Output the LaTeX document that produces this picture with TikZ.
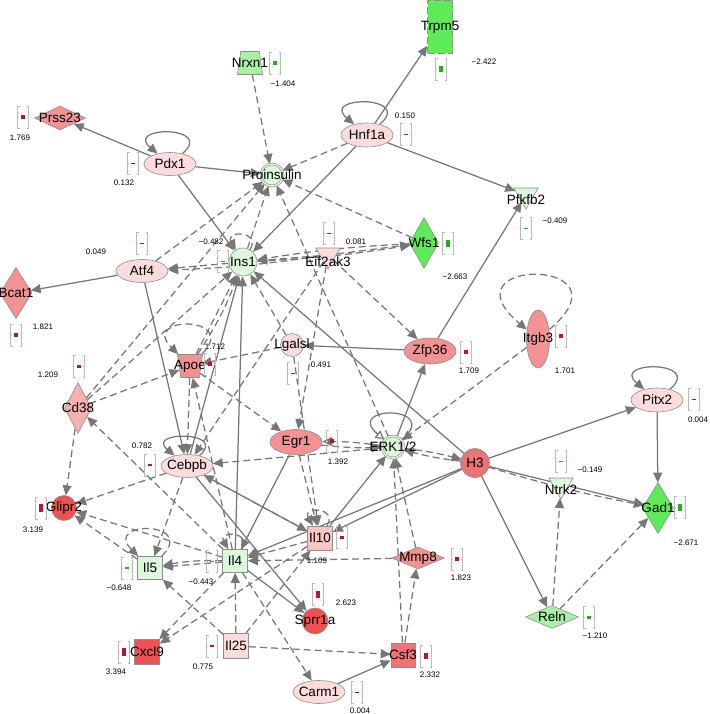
\documentclass[tikz,border=0pt]{standalone}
\usepackage{fontspec}
\setmainfont{Liberation Sans}
\usepackage{xcolor}
\usepackage{tikz}
\usetikzlibrary{arrows.meta}
\usetikzlibrary{shapes.geometric}
\usetikzlibrary{backgrounds}
\definecolor{linha}{HTML}{777777}
\definecolor{borda}{HTML}{8E8E8E}
\definecolor{rosa}{HTML}{FBDCDC}
\definecolor{rosam}{HTML}{F8C4C4}
\definecolor{rosaf}{HTML}{F6B0B0}
\definecolor{verm}{HTML}{F39292}
\definecolor{vermm}{HTML}{F07474}
\definecolor{vermf}{HTML}{EE5252}
\definecolor{verdec}{HTML}{DDF7DC}
\definecolor{verdem}{HTML}{AAF0A4}
\definecolor{verde}{HTML}{5EEB58}
\definecolor{barv}{HTML}{B3182B}
\definecolor{barg}{HTML}{1EB01E}
\tikzset{
  rotulo/.style={font=\fontsize{13.5}{15}\selectfont, inner sep=0pt},
  nome/.style={label={[rotulo]center:#1}},
  gene/.style={draw=borda, line width=0.6pt, fill=#1, inner sep=0pt},
  oval/.style={gene=#1, ellipse, minimum width=52pt, minimum height=23pt},
  losango/.style={gene=#1, diamond},
  caixa/.style={gene=#1, rectangle, minimum width=25pt, minimum height=24pt},
  bola/.style={gene=#1, circle},
  duplo/.style={gene=#1, circle, double=#1, double distance=1.4pt},
  trap/.style={gene=#1, trapezium, trapezium left angle=80, trapezium right angle=80,
    trapezium stretches=true, inner sep=2pt, minimum width=25pt, minimum height=23pt},
  tri/.style={gene=#1, regular polygon, regular polygon sides=3, shape border rotate=180, minimum size=28pt},
  valor/.style={font=\fontsize{8}{9}\selectfont, inner sep=0pt},
  colchete/.style={draw=gray!55, line width=0.6pt},
  seta/.style={-{Triangle[length=10pt, width=9pt]}, draw=linha, line width=1.25pt},
  setap/.style={seta, dash pattern=on 7pt off 4pt},
}
\newcommand{\nivel}[4]{%
  \begin{scope}[shift={(#1,#2)}]
    \draw[colchete] (-3.5,-11) -- (-5.5,-11) -- (-5.5,11) -- (-3.5,11);
    \draw[colchete] (3.5,-11) -- (5.5,-11) -- (5.5,11) -- (3.5,11);
    \draw[colchete, draw=gray!35] (-5.5,0) -- (-4,0) (4,0) -- (5.5,0);
    \fill[#3] (-1.8,-#4/2) rectangle (1.8,#4/2);
  \end{scope}}

\begin{document}
\begin{tikzpicture}[x=1pt, y=-1pt]
  \useasboundingbox (0,0) rectangle (709,714);
  % genes
  \node[caixa=verde, dash pattern=on 7pt off 3pt, minimum height=53pt, nome=Trpm5] (trpm) at (440,27) {};
  \node[trap=verdem, nome=Nrxn1] (nrxn) at (250,63) {};
  \node[losango=verm, minimum width=51pt, minimum height=24pt, nome=Prss23] (prss) at (60,118) {};
  \node[oval=rosa, nome=Pdx1] (pdx) at (170,164) {};
  \node[oval=rosa, minimum height=24pt, nome=Hnf1a] (hnf) at (367,135) {};
  \node[duplo=verdec, minimum size=22pt, nome=Proinsulin] (proins) at (272,175) {};
  \node[tri=verdec, label={[rotulo, yshift=-5pt]center:Pfkfb2}] (pfkfb) at (526,195) {};
  \node[losango=verde, minimum width=29pt, minimum height=51pt, nome=Wfs1] (wfs) at (424,243) {};
  \node[tri=rosa, label={[rotulo, yshift=-7pt]center:Eif2ak3}] (eif) at (328,255) {};
  \node[bola=verdec, minimum size=28pt, nome=Ins1] (ins) at (243,262) {};
  \node[oval=rosa, nome=Atf4] (atf) at (142,271) {};
  \node[losango=verm, minimum width=32pt, minimum height=51pt, nome=Bcat1] (bcat) at (16,293) {};
  \node[bola=rosa, minimum size=23pt, nome=Lgalsl] (lgal) at (292,345) {};
  \node[oval=verm, minimum height=26pt, nome=Zfp36] (zfp) at (430,351) {};
  \node[gene=verm, ellipse, minimum width=23pt, minimum height=58pt, nome=Itgb3] (itgb) at (538,339) {};
  \node[trap=verm, shape border rotate=180, nome=Apoe] (apoe) at (190,366) {};
  \node[losango=rosaf, minimum width=27pt, minimum height=51pt, nome=Cd38] (cd) at (78,408) {};
  \node[oval=rosa, minimum height=24pt, nome=Pitx2] (pitx) at (657,400) {};
  \node[oval=verm, minimum height=25pt, nome=Egr1] (egr) at (296,442) {};
  \node[duplo=verdec, minimum size=22pt, nome=ERK1/2] (erk) at (393,447) {};
  \node[duplo=vermm, minimum size=27pt, nome=H3] (hthree) at (475,463) {};
  \node[oval=rosa, nome=Cebpb] (cebpb) at (187,466) {};
  \node[bola=vermf, minimum size=25pt, nome=Glipr2] (glipr) at (64,508) {};
  \node[tri=verdec, label={[rotulo, yshift=-5pt]center:Ntrk2}] (ntrk) at (561,485) {};
  \node[losango=verde, minimum width=31pt, minimum height=51pt, nome=Gad1] (gad) at (658,508) {};
  \node[caixa=rosam, minimum width=25pt, minimum height=24pt, nome=Il10] (il10) at (320,538) {};
  \node[caixa=verdec, minimum height=23pt, nome=Il4] (il4) at (235,561) {};
  \node[caixa=verdec, minimum height=23pt, nome=Il5] (il5) at (150,568) {};
  \node[losango=verm, minimum width=53pt, minimum height=22pt, nome=Mmp8] (mmp) at (418,558) {};
  \node[bola=vermf, minimum size=26pt, nome=Sprr1a] (sprr) at (315,621) {};
  \node[caixa=vermf, minimum height=25pt, nome=Cxcl9] (cxcl) at (147,652) {};
  \node[caixa=rosa, minimum height=25pt, nome=Il25] (il25) at (236,646) {};
  \node[caixa=vermm, minimum width=24pt, nome=Csf3] (csf) at (403,655) {};
  \node[oval=rosa, nome=Carm1] (carm) at (319,692) {};
  \node[losango=verdem, minimum width=53pt, minimum height=23pt, nome=Reln] (reln) at (552,617) {};

  % expression values
  \nivel{441}{69}{barg}{6}   \node[valor] (v-trpm) at (484,62) {−2.422};
  \nivel{275}{63}{barg}{3.5} \node[valor] (v-nrxn) at (283,84) {−1.404};
  \nivel{23}{117}{barv}{4.5} \node[valor] (v-prss) at (20,138) {1.769};
  \nivel{133}{163}{barv}{0.9} \node[valor] (v-pdx) at (124,183) {0.132};
  \nivel{406}{134}{barv}{0.9} \node[valor] (v-hnf) at (405,116) {0.150};
  \nivel{526}{228}{barg}{0.9} \node[valor] (v-pfkfb) at (555,221) {−0.409};
  \nivel{448}{243}{barg}{7}  \node[valor] (v-wfs) at (455,277) {−2.663};
  \nivel{329}{233}{barv}{0.9} \node[valor] (v-eif) at (356,242) {0.081};
  \nivel{223}{261}{barg}{0.9} \node[valor] (v-ins) at (211,242) {−0.482};
  \nivel{142}{243}{barv}{0.9} \node[valor] (v-atf) at (96,252) {0.049};
  \nivel{16}{335}{barv}{4.5} \node[valor] (v-bcat) at (43,327) {1.821};
  \nivel{293}{373}{barv}{0.9} \node[valor] (v-lgal) at (321,365) {0.491};
  \nivel{466}{352}{barv}{4.5} \node[valor] (v-zfp) at (469,371) {1.709};
  \nivel{561}{336}{barv}{4.5} \node[valor] (v-itgb) at (565,371) {1.701};
  \nivel{210}{364}{barv}{4.5} \node[valor] (v-apoe) at (215,347) {1.712};
  \nivel{79}{366}{barv}{3}   \node[valor] (v-cd) at (48,375) {1.209};
  \nivel{694}{399}{barv}{0.9} \node[valor] (v-pitx) at (698,420) {0.004};
  \nivel{332}{441}{barv}{3.5} \node[valor] (v-egr) at (338,462) {1.392};
  \nivel{150}{465}{barv}{1.8} \node[valor] (v-cebpb) at (142,446) {0.782};
  \nivel{41}{508}{barv}{7.5} \node[valor] (v-glipr) at (33,530) {3.139};
  \nivel{561}{461}{barg}{0.9} \node[valor] (v-ntrk) at (590,470) {−0.149};
  \nivel{680}{507}{barg}{7}  \node[valor] (v-gad) at (686,543) {−2.671};
  \nivel{342}{537}{barv}{3}  \node[valor] (v-il10) at (317,561) {1.109};
  \nivel{212}{561}{barg}{0.9} \node[valor] (v-il4) at (201,582) {−0.443};
  \nivel{127}{568}{barg}{1.5} \node[valor] (v-il5) at (119,588) {−0.648};
  \nivel{457}{559}{barv}{4.5} \node[valor] (v-mmp) at (461,578) {1.823};
  \nivel{318}{594}{barv}{7}  \node[valor] (v-sprr) at (346,603) {2.623};
  \nivel{124}{652}{barv}{8}  \node[valor] (v-cxcl) at (116,672) {3.394};
  \nivel{212}{646}{barv}{1.8} \node[valor] (v-il25) at (203,667) {0.775};
  \nivel{426}{656}{barv}{6.5} \node[valor] (v-csf) at (430,675) {2.332};
  \nivel{357}{692}{barv}{0.9} \node[valor] (v-carm) at (360,711) {0.004};
  \nivel{589}{617}{barg}{3}  \node[valor] (v-reln) at (595,636) {−1.210};

  \begin{scope}[on background layer]
    % direct relations
    \draw[seta] (pdx) -- (prss); \draw[seta] (pdx) -- (proins); \draw[seta] (pdx) -- (ins);
    \draw[seta] (hnf) -- (trpm); \draw[seta] (hnf) -- (pfkfb); \draw[seta] (hnf) -- (ins);
    \draw[seta] (atf) -- (bcat); \draw[seta] (atf) -- (cebpb);
    \draw[seta] (zfp) -- (pfkfb); \draw[seta] (zfp) -- (lgal); \draw[seta] (erk) -- (zfp);
    \draw[seta] (hthree) -- (ins); \draw[seta] (hthree) -- (pitx); \draw[seta] (hthree) -- (gad);
    \draw[seta] (hthree) -- (reln); \draw[seta] (hthree) -- (il10); \draw[seta] (hthree) -- (il4);
    \draw[seta] (pitx) -- (gad);
    \draw[seta] (cebpb) -- (ins); \draw[seta] (il4) -- (ins); \draw[seta] (cebpb) -- (il10);
    \draw[seta] (egr) -- (il4); \draw[seta] (il10) -- (erk);
    \draw[seta] (il4) -- (sprr); \draw[seta] (cebpb) -- (sprr); \draw[seta] (carm) -- (csf);
    \draw[seta] (pdx) to[out=40, in=140, looseness=4.5] (pdx);
    \draw[seta] (hnf) to[out=40, in=140, looseness=4.5] (hnf);
    \draw[seta] (pitx) to[out=40, in=140, looseness=4.5] (pitx);
    \draw[seta] (cebpb) to[out=40, in=140, looseness=4] (cebpb);
    \draw[seta, -{Triangle[open, length=9pt, width=9pt, fill=white]}] (erk) to[out=40, in=140, looseness=8] (erk);
    % indirect relations
    \draw[setap] (nrxn) -- (proins); \draw[setap] (hnf) -- (proins); \draw[setap] (wfs) -- (proins);
    \draw[setap] (atf) -- (proins); \draw[setap] (ins) -- (proins); \draw[setap] (cd) -- (proins);
    \draw[setap] (erk) -- (proins);
    \draw[setap] (ins) -- (atf); \draw[setap] (eif) to[bend left=3] (atf);
    \draw[setap] (eif) -- (ins); \draw[setap] (wfs) to[bend right=3] (ins); \draw[setap] (ins) to[bend right=3] (wfs);
    \draw[setap] (eif) -- (wfs); \draw[setap] (eif) -- (zfp); \draw[setap] (eif) -- (egr);
    \draw[setap] (eif) -- (cebpb);
    \draw[setap] (cd) -- (ins); \draw[setap] (cd) -- (apoe); \draw[setap] (cd) -- (glipr);
    \draw[setap] (apoe) -- (ins); \draw[setap] (apoe) to[bend right=6] (ins);
    \draw[setap] (apoe) -- (egr); \draw[setap] (apoe) -- (cebpb); \draw[setap] (il4) -- (apoe);
    \draw[setap] (lgal) -- (ins); \draw[setap] (lgal) -- (apoe); \draw[setap] (lgal) -- (il10);
    \draw[setap] (itgb) -- (erk);
    \draw[setap] (erk) to[bend right=4] (egr); \draw[setap] (egr) to[bend right=4] (erk);
    \draw[setap] (erk) -- (cebpb);
    \draw[setap] (erk) to[bend left=4] (hthree); \draw[setap] (hthree) to[bend left=4] (erk);
    \draw[setap] (hthree) to[bend right=3] (gad);
    \draw[setap] (reln) -- (ntrk); \draw[setap] (reln) -- (gad);
    \draw[setap] (csf) -- (erk); \draw[setap] (mmp) -- (erk); \draw[setap] (csf) -- (mmp);
    \draw[setap] (mmp) -- (il4);
    \draw[setap] (il25) -- (csf); \draw[setap] (il25) -- (il5); \draw[setap] (il25) -- (il4);
    \draw[setap] (il25) -- (il10);
    \draw[setap] (il4) -- (il5); \draw[setap] (il4) to[bend right=6] (il5);
    \draw[setap] (il4) -- (cxcl); \draw[setap] (il10) -- (cxcl);
    \draw[setap] (il4) -- (glipr); \draw[setap] (cebpb) -- (glipr); \draw[setap] (il5) -- (glipr);
    \draw[setap] (il4) -- (cd); \draw[setap] (il4) -- (carm);
    \draw[setap] (egr) -- (il10); \draw[setap] (il10) -- (il4);
    \draw[setap] (cebpb) -- (il5); \draw[setap] (il10) -- (cebpb);
    \draw[setap] (ins) to[out=60, in=120, looseness=4] (ins);
    \draw[setap] (apoe) to[out=45, in=135, looseness=6] (apoe);
    \draw[setap] (itgb) to[out=40, in=140, looseness=13] (itgb);
    \draw[setap] (il5) to[out=45, in=135, looseness=5.5] (il5);
    \draw[setap] (il4) to[out=60, in=120, looseness=4] (il4);
    \draw[setap] (il10) to[out=60, in=120, looseness=4] (il10);
  \end{scope}
\end{tikzpicture}
\end{document}
